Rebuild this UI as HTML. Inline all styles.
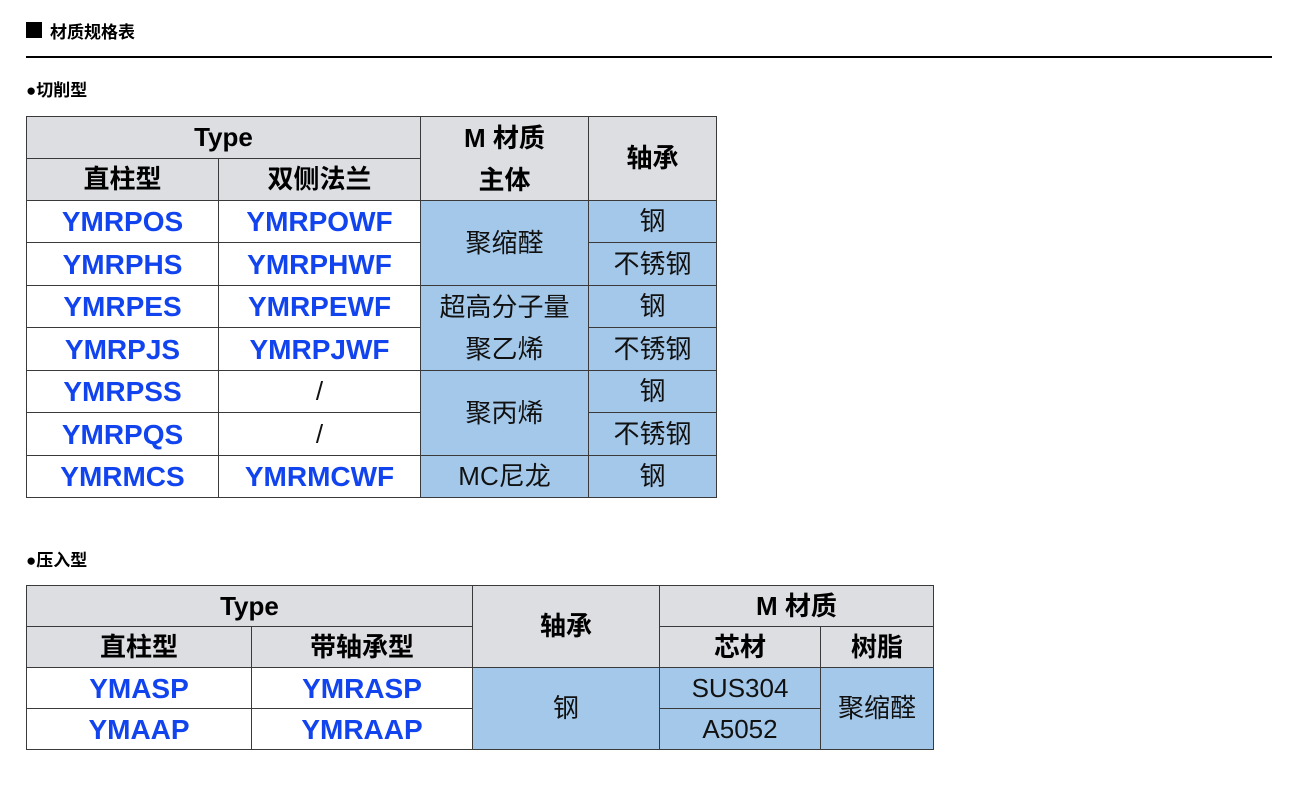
<!DOCTYPE html>
<html><head><meta charset="utf-8"><style>
body{margin:0;width:1300px;height:800px;background:#fff;position:relative;overflow:hidden;font-family:"Liberation Sans","Noto Sans CJK SC",sans-serif;}
.c{position:absolute;box-sizing:border-box;border:1px solid #3a3a3a;display:flex;align-items:center;justify-content:center;text-align:center;font-size:26px;color:#111;line-height:1.25;}
.h{background:#dcdee2;font-weight:bold;color:#000;}
.b{background:#a4c8ea;}
.k{color:#1144ee;font-weight:bold;font-size:28px;background:#fff;}
.w{background:#fff;}
.t{line-height:42px;}
</style></head><body>
<div style="position:absolute;left:26px;top:22px;width:16px;height:16px;background:#000"></div>
<div style="position:absolute;left:50px;top:18px;font-size:17px;font-weight:bold">材质规格表</div>
<div style="position:absolute;left:26px;top:56px;width:1246px;height:2px;background:#000"></div>
<div style="position:absolute;left:26px;top:76px;font-size:17px;font-weight:bold">●切削型</div>
<div style="position:absolute;left:26px;top:546px;font-size:17px;font-weight:bold">●压入型</div>

<div class="c h" style="left:26px;top:116px;width:395px;height:43px">Type</div>
<div class="c h t" style="left:420px;top:116px;width:169px;height:85px">M 材质<br>主体</div>
<div class="c h" style="left:588px;top:116px;width:129px;height:85px">轴承</div>
<div class="c h" style="left:26px;top:158px;width:193px;height:43px">直柱型</div>
<div class="c h" style="left:218px;top:158px;width:203px;height:43px">双侧法兰</div>

<div class="c k" style="left:26px;top:200px;width:193px;height:43px">YMRPOS</div>
<div class="c k" style="left:218px;top:200px;width:203px;height:43px">YMRPOWF</div>
<div class="c k" style="left:26px;top:242px;width:193px;height:44px">YMRPHS</div>
<div class="c k" style="left:218px;top:242px;width:203px;height:44px">YMRPHWF</div>
<div class="c k" style="left:26px;top:285px;width:193px;height:43px">YMRPES</div>
<div class="c k" style="left:218px;top:285px;width:203px;height:43px">YMRPEWF</div>
<div class="c k" style="left:26px;top:327px;width:193px;height:44px">YMRPJS</div>
<div class="c k" style="left:218px;top:327px;width:203px;height:44px">YMRPJWF</div>
<div class="c k" style="left:26px;top:370px;width:193px;height:43px">YMRPSS</div>
<div class="c w" style="left:218px;top:370px;width:203px;height:43px">/</div>
<div class="c k" style="left:26px;top:412px;width:193px;height:44px">YMRPQS</div>
<div class="c w" style="left:218px;top:412px;width:203px;height:44px">/</div>
<div class="c k" style="left:26px;top:455px;width:193px;height:43px">YMRMCS</div>
<div class="c k" style="left:218px;top:455px;width:203px;height:43px">YMRMCWF</div>

<div class="c b" style="left:420px;top:200px;width:169px;height:86px">聚缩醛</div>
<div class="c b t" style="left:420px;top:285px;width:169px;height:86px">超高分子量<br>聚乙烯</div>
<div class="c b" style="left:420px;top:370px;width:169px;height:86px">聚丙烯</div>
<div class="c b" style="left:420px;top:455px;width:169px;height:43px">MC尼龙</div>

<div class="c b" style="left:588px;top:200px;width:129px;height:43px">钢</div>
<div class="c b" style="left:588px;top:242px;width:129px;height:44px">不锈钢</div>
<div class="c b" style="left:588px;top:285px;width:129px;height:43px">钢</div>
<div class="c b" style="left:588px;top:327px;width:129px;height:44px">不锈钢</div>
<div class="c b" style="left:588px;top:370px;width:129px;height:43px">钢</div>
<div class="c b" style="left:588px;top:412px;width:129px;height:44px">不锈钢</div>
<div class="c b" style="left:588px;top:455px;width:129px;height:43px">钢</div>

<div class="c h" style="left:26px;top:585px;width:447px;height:42px">Type</div>
<div class="c h" style="left:26px;top:626px;width:226px;height:42px">直柱型</div>
<div class="c h" style="left:251px;top:626px;width:222px;height:42px">带轴承型</div>
<div class="c h" style="left:472px;top:585px;width:188px;height:83px">轴承</div>
<div class="c h" style="left:659px;top:585px;width:275px;height:42px">M 材质</div>
<div class="c h" style="left:659px;top:626px;width:162px;height:42px">芯材</div>
<div class="c h" style="left:820px;top:626px;width:114px;height:42px">树脂</div>
<div class="c k" style="left:26px;top:667px;width:226px;height:42px">YMASP</div>
<div class="c k" style="left:251px;top:667px;width:222px;height:42px">YMRASP</div>
<div class="c k" style="left:26px;top:708px;width:226px;height:42px">YMAAP</div>
<div class="c k" style="left:251px;top:708px;width:222px;height:42px">YMRAAP</div>
<div class="c b" style="left:472px;top:667px;width:188px;height:83px">钢</div>
<div class="c b" style="left:659px;top:667px;width:162px;height:42px">SUS304</div>
<div class="c b" style="left:659px;top:708px;width:162px;height:42px">A5052</div>
<div class="c b" style="left:820px;top:667px;width:114px;height:83px">聚缩醛</div>
</body></html>
